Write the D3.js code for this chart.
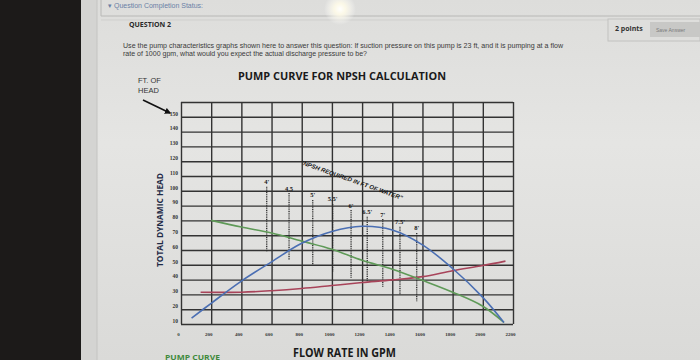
<!DOCTYPE html>
<html><head><meta charset="utf-8">
<script src="https://cdn.jsdelivr.net/npm/d3@7"></script>
<style>body{margin:0;background:#dcdcda;overflow:hidden}svg{display:block}</style>
</head><body><svg id="c" width="700" height="360"></svg>
<script>
// ---- data ----
const xTicks = [0,200,400,600,800,1000,1200,1400,1600,1800,2000,2200];
const yTicks = [10,20,30,40,50,60,70,80,90,100,110,120,130,140,150];
const pumpFlow = [200,400,600,800,1000,1200,1400,1600,1800,2000,2140];
const pumpHead = [80,75.5,71.5,66,60.5,53,47,39.5,31.5,22,11];
const blueFlow = [70,200,400,600,800,1000,1200,1400,1600,1800,2000,2140];
const blueHead = [14,24,39,52,64.5,72.5,76,73.5,63.5,47.5,28,11];
const redFlow = [130,400,600,800,1000,1200,1400,1600,1800,2000,2150];
const redHead = [31.5,31.5,32.5,34,36,38,39.8,42,46,49.5,52.5];
const npshFlow = [568,716,873,1005,1127,1234,1337,1451,1562];
const npshTop = [102.8,98.5,93.8,91.1,87,82.5,80.9,75.7,71.5];
const npshBottom = [58.9,53.2,49.9,45.3,40.9,38.6,34.8,29.6,25.1];
const npshLabels = ["4'","4.5","5'","5.5'","6'","6.5'","7'","7.5'","8'"];

const svg = d3.select("#c");
const defs = svg.append("defs");
const bg = defs.append("linearGradient").attr("id","bg").attr("x1",0).attr("y1",0).attr("x2",0).attr("y2",1);
bg.append("stop").attr("offset","0").attr("stop-color","#dddddb");
bg.append("stop").attr("offset","0.4").attr("stop-color","#e5e5e3");
bg.append("stop").attr("offset","1").attr("stop-color","#dadad8");
const gl = defs.append("radialGradient").attr("id","glare");
gl.append("stop").attr("offset","0").attr("stop-color","#ffffff").attr("stop-opacity",1);
gl.append("stop").attr("offset","0.35").attr("stop-color","#fffbe8").attr("stop-opacity",0.9);
gl.append("stop").attr("offset","1").attr("stop-color","#ffffff").attr("stop-opacity",0);
const mk = defs.append("marker").attr("id","ah").attr("viewBox","0 0 10 10").attr("refX",8).attr("refY",5)
  .attr("markerWidth",4).attr("markerHeight",4).attr("orient","auto");
mk.append("path").attr("d","M0,0L10,5L0,10z").attr("fill","#111");

// page
svg.append("rect").attr("width",700).attr("height",360).attr("fill","url(#bg)");
svg.append("rect").attr("x",0).attr("y",0).attr("width",81).attr("height",360).attr("fill","#1c1a19");
svg.append("rect").attr("x",81).attr("y",0).attr("width",16).attr("height",360).attr("fill","#d4d4d2");
svg.append("line").attr("x1",97).attr("x2",97).attr("y1",0).attr("y2",360).attr("stroke","#c4c4c2");
// status box
svg.append("path").attr("d","M101,0V16H700").attr("fill","none").attr("stroke","#b8b8b6");
svg.append("text").attr("x",108).attr("y",8).attr("font-family","Liberation Sans, Arial").attr("font-size",7)
  .attr("fill","#6a7fa6").text("▾ Question Completion Status:");
svg.append("line").attr("x1",101).attr("x2",608).attr("y1",20).attr("y2",20).attr("stroke","#cfcfcd");
svg.append("text").attr("x",129).attr("y",27).attr("font-family","Open Sans, Liberation Sans").attr("font-weight",700)
  .attr("font-size",7).attr("fill","#2a2a2a").text("QUESTION 2");
svg.append("rect").attr("x",608).attr("y",19).attr("width",92).attr("height",22).attr("fill","#dededc").attr("stroke","#c2c2c0");
svg.append("text").attr("x",615).attr("y",31).attr("font-family","Open Sans, Liberation Sans").attr("font-weight",700)
  .attr("font-size",7).attr("fill","#333").text("2 points");
svg.append("rect").attr("x",650).attr("y",22).attr("width",50).attr("height",15).attr("fill","#c8c8c6");
svg.append("text").attr("x",656).attr("y",31.5).attr("font-family","Liberation Sans, Arial")
  .attr("font-size",5).attr("fill","#7a7a7a").text("Save Answer");
svg.append("text").attr("x",123).attr("y",48).attr("font-family","Liberation Sans, Arial").attr("font-size",6.6)
  .attr("fill","#3a3a3a").attr("textLength",440).attr("lengthAdjust","spacingAndGlyphs")
  .text("Use the pump characteristics graphs shown here to answer this question:  If suction pressure on this pump is 23 ft, and it is pumping at a flow");
svg.append("text").attr("x",123).attr("y",56).attr("font-family","Liberation Sans, Arial").attr("font-size",6.6)
  .attr("fill","#3a3a3a").attr("textLength",244).attr("lengthAdjust","spacingAndGlyphs")
  .text("rate of 1000 gpm, what would you expect the actual discharge pressure to be?");
svg.append("circle").attr("cx",340).attr("cy",9).attr("r",16).attr("fill","url(#glare)");

// chart
const x = d3.scaleLinear().domain([0,2200]).range([181,513]);
const y = d3.scaleLinear().domain([10,160]).range([324,102]);

svg.append("text").attr("x",238).attr("y",79.5).attr("font-family","Open Sans, Lato").attr("font-weight",700)
  .attr("font-size",11).attr("fill","#1a1a1a").attr("textLength",208).attr("lengthAdjust","spacingAndGlyphs")
  .text("PUMP CURVE FOR NPSH CALCULATION");

const gx = svg.append("g").attr("transform","translate(0,324)")
  .call(d3.axisBottom(x).tickValues(xTicks).tickSize(-(324-102)).tickPadding(8).tickFormat(d3.format("d")));
gx.select(".domain").remove();
gx.selectAll("line").attr("stroke","#333").attr("stroke-width",1.4);
gx.selectAll("text").attr("font-family","Liberation Serif, serif").attr("font-size",5).attr("font-weight",700)
  .attr("fill","#333").attr("dx",-3);

const gy = svg.append("g").attr("transform","translate(181,0)")
  .call(d3.axisLeft(y).tickValues(yTicks.concat([160])).tickSize(-(513-181)).tickPadding(3).tickFormat(d=>d===160?"":d));
gy.select(".domain").remove();
gy.selectAll("line").attr("stroke","#333").attr("stroke-width",1.4);
gy.selectAll("text").attr("font-family","Liberation Serif, serif").attr("font-size",5.5).attr("font-weight",700)
  .attr("fill","#333").attr("dy","-0.3em");

// npsh markers
const ng = svg.append("g");
npshFlow.forEach((f,i)=>{
  ng.append("line").attr("x1",x(f)).attr("x2",x(f)).attr("y1",y(npshTop[i])).attr("y2",y(npshBottom[i]))
    .attr("stroke","#2a2a2a").attr("stroke-width",1.3).attr("stroke-dasharray","1,0.8");
  ng.append("text").attr("x",x(f)).attr("y",y(npshTop[i])-2.5).attr("text-anchor","middle")
    .attr("font-family","Liberation Serif, serif").attr("font-weight",700).attr("font-size",6.5).attr("fill","#1a1a1a")
    .text(npshLabels[i]);
});
svg.append("text").attr("transform","translate(300,164) rotate(19.5)").attr("font-family","Liberation Sans, Arial")
  .attr("font-weight",700).attr("font-style","italic").attr("font-size",6).attr("fill","#1a1a1a").attr("textLength",108)
  .attr("lengthAdjust","spacingAndGlyphs").text("\u201CNPSH REQUIRED IN FT OF WATER\u201D");

// curves
const line = d3.line().curve(d3.curveCatmullRom).x(d=>x(d[0])).y(d=>y(d[1]));
svg.append("path").datum(redFlow.map((f,i)=>[f,redHead[i]])).attr("d",line)
  .attr("fill","none").attr("stroke","#a8445a").attr("stroke-width",1.6);
svg.append("path").datum(pumpFlow.map((f,i)=>[f,pumpHead[i]])).attr("d",line)
  .attr("fill","none").attr("stroke","#5f9a58").attr("stroke-width",1.6);
svg.append("path").datum(blueFlow.map((f,i)=>[f,blueHead[i]])).attr("d",line)
  .attr("fill","none").attr("stroke","#4b6fb3").attr("stroke-width",1.6);

// labels
svg.append("text").attr("x",138).attr("y",83.3).attr("font-family","Liberation Sans, Arial").attr("font-size",7.5)
  .attr("fill","#333").text("FT. OF");
svg.append("text").attr("x",138).attr("y",93.3).attr("font-family","Liberation Sans, Arial").attr("font-size",7.5)
  .attr("fill","#333").text("HEAD");
svg.append("line").attr("x1",143).attr("y1",100).attr("x2",170).attr("y2",113).attr("stroke","#111")
  .attr("stroke-width",1.6).attr("marker-end","url(#ah)");
svg.append("text").attr("transform","translate(163,267) rotate(-90)").attr("font-family","Open Sans, Lato")
  .attr("font-weight",700).attr("font-size",9).attr("fill","#1f2b47").attr("textLength",94)
  .attr("lengthAdjust","spacingAndGlyphs").text("TOTAL DYNAMIC HEAD");
svg.append("text").attr("x",293).attr("y",356.5).attr("font-family","Open Sans, Lato").attr("font-weight",700)
  .attr("font-size",11.5).attr("fill","#1a1a1a").attr("textLength",103).attr("lengthAdjust","spacingAndGlyphs")
  .text("FLOW RATE IN GPM");
svg.append("text").attr("x",165).attr("y",359.5).attr("font-family","Open Sans, Lato").attr("font-weight",700)
  .attr("font-size",6.5).attr("fill","#3f8a3c").attr("textLength",55).attr("lengthAdjust","spacingAndGlyphs")
  .text("PUMP CURVE");
</script></body></html>
